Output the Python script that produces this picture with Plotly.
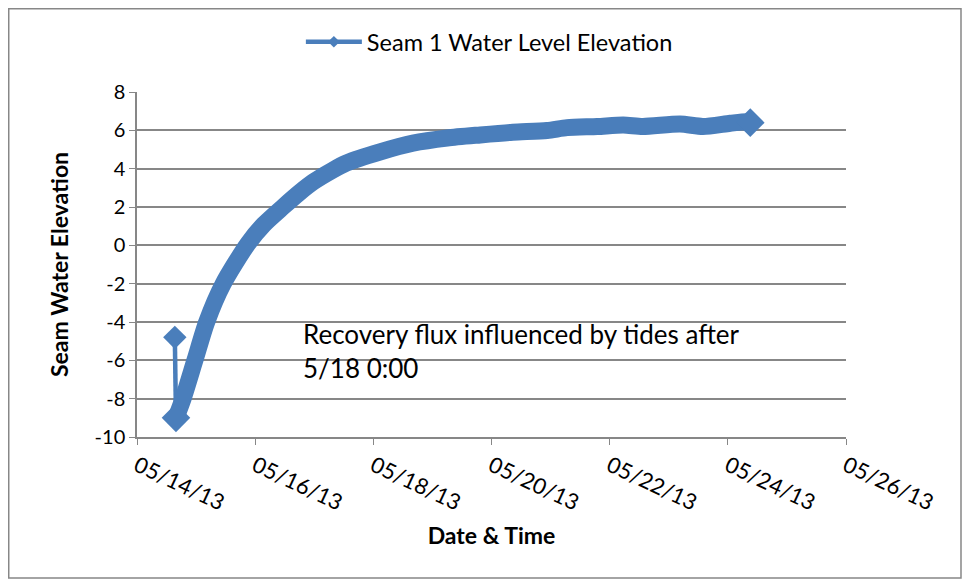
import plotly.graph_objects as go

# Seam 1 readings
times = [
    "2013-05-14 15:22", "2013-05-14 15:50", "2013-05-14 18:43", "2013-05-14 23:31",
    "2013-05-15 04:19", "2013-05-15 11:02", "2013-05-15 21:07", "2013-05-16 03:36",
    "2013-05-16 11:17", "2013-05-16 18:00", "2013-05-16 23:31", "2013-05-17 07:12",
    "2013-05-17 13:12", "2013-05-18 02:38", "2013-05-18 16:05", "2013-05-19 06:00",
    "2013-05-19 19:26", "2013-05-20 08:38", "2013-05-20 22:34", "2013-05-21 06:43",
    "2013-05-21 18:58", "2013-05-22 05:31", "2013-05-22 13:26", "2013-05-23 04:34",
    "2013-05-23 13:55", "2013-05-24 00:58", "2013-05-24 07:41", "2013-05-24 09:07",
]
elevation = [
    -4.8, -9.0, -8.0, -6.0,
    -4.0, -2.0, 0.1, 1.1,
    2.0, 2.75, 3.3, 3.9,
    4.3, 4.87, 5.33, 5.6,
    5.76, 5.9, 5.99, 6.14,
    6.2, 6.28, 6.2, 6.33,
    6.2, 6.37, 6.45, 6.4,
]
y_ticks = [-10, -8, -6, -4, -2, 0, 2, 4, 6, 8]
series_name = "Seam 1 Water Level Elevation"
note = "Recovery flux influenced by tides after<br>5/18 0:00"

blue = "#4a7ebb"
grid = "#878787"
font = "Lato, 'Open Sans', sans-serif"

fig = go.Figure()

# first reading -> thin segment with a visible diamond (also used as legend item)
fig.add_trace(go.Scatter(
    x=times[:2], y=elevation[:2], name=series_name,
    mode="lines+markers",
    line=dict(color=blue, width=4.5),
    marker=dict(symbol="diamond", size=[18, 0], color=blue, opacity=1,
                line=dict(width=0)),
    showlegend=True,
))

# the dense logger record shows as a thick band
n = len(times) - 1
fig.add_trace(go.Scatter(
    x=times[1:], y=elevation[1:], name=series_name,
    mode="lines+markers",
    line=dict(color=blue, width=17, shape="spline", smoothing=0.7),
    marker=dict(symbol="diamond", size=[22] + [0] * (n - 2) + [22], color=blue,
                opacity=1, line=dict(width=0)),
    showlegend=False,
))

fig.add_annotation(
    text=note, xref="paper", yref="paper", x=0.232, y=0.352,
    xanchor="left", yanchor="top", align="left", showarrow=False,
    font=dict(family=font, size=26, color="#000"),
)

# outer chart frame
fig.add_shape(type="rect", xref="paper", yref="paper",
              x0=-0.1809, x1=1.1622, y0=-0.4087, y1=1.2413,
              line=dict(color=grid, width=1.5), fillcolor="rgba(0,0,0,0)", layer="below")

# the page body adds 8px, so the figure is a bit smaller than the window
fig.update_layout(
    width=954, height=571,
    margin=dict(l=129, r=116, t=84, b=142),
    paper_bgcolor="white", plot_bgcolor="white",
    font=dict(family=font, size=20, color="#000"),
    legend=dict(orientation="h", x=0.497, y=1.145, xanchor="center", yanchor="middle",
                font=dict(size=23.5), bgcolor="rgba(0,0,0,0)", itemwidth=56),
    xaxis=dict(
        type="date", range=["2013-05-14", "2013-05-26"],
        tick0="2013-05-14", dtick=2 * 86400000, tickformat="%m/%d/%y",
        tickangle=25, tickfont=dict(size=22), ticks="outside", ticklen=6, tickcolor=grid,
        showgrid=False, showline=True, linecolor=grid, linewidth=1.5,
        zeroline=False,
        title=dict(text="<b>Date & Time</b>", font=dict(size=23), standoff=13),
    ),
    yaxis=dict(
        range=[-10, 8], tickvals=y_ticks, ticktext=[str(v) for v in y_ticks],
        ticks="outside", ticklen=6, tickcolor=grid,
        showgrid=True, gridcolor=grid, gridwidth=1.5,
        showline=True, linecolor=grid, linewidth=1.5, zeroline=False,
        title=dict(text="<b>Seam Water Elevation</b>", font=dict(size=23), standoff=20),
    ),
)

fig.write_html("out.html")
